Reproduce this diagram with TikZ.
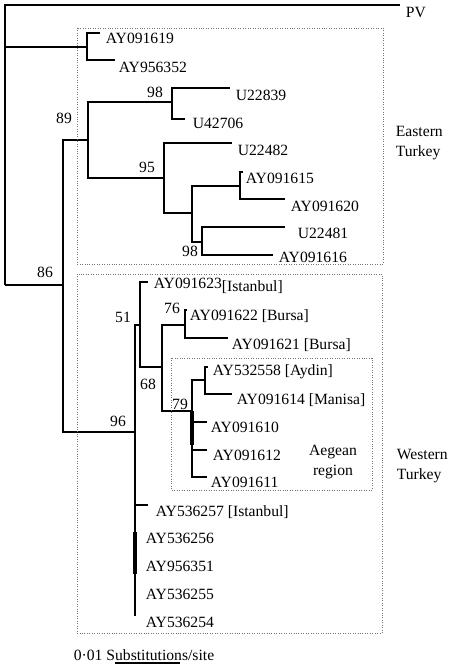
\documentclass[tikz,border=0pt]{standalone}
\usepackage{fontspec}
\setmainfont{Liberation Serif}
\begin{document}
\begin{tikzpicture}[x=0.02cm,y=-0.02cm,line width=1pt]
    \tikzstyle{taxon}=[anchor=west,inner sep=0pt,font=\fontsize{8.9}{10}\selectfont];
    \tikzstyle{boot}=[inner sep=0pt,font=\fontsize{8.9}{10}\selectfont];
    \tikzstyle{regionbox}=[draw=black!55,densely dotted,line width=0.4pt];
    \tikzstyle{polytomy}=[line width=1.8pt];
    \useasboundingbox (0,0) rectangle (450,666);

    % inner nodes of the tree
    \coordinate (root) at (5, 285);
    \coordinate (c1)   at (87, 47);
    \coordinate (n86)  at (63, 285);
    \coordinate (n89)  at (88, 140);
    \coordinate (n98a) at (172, 102);
    \coordinate (n95)  at (164, 178);
    \coordinate (nA)   at (192, 213);
    \coordinate (nB)   at (240, 186);
    \coordinate (n98b) at (202, 242);
    \coordinate (n96)  at (135, 432);
    \coordinate (n51)  at (140, 325);
    \coordinate (n68)  at (162, 367);
    \coordinate (n76)  at (185, 325);
    \coordinate (n79)  at (192, 411);
    \coordinate (n79b) at (192, 445);
    \coordinate (nC)   at (205, 380);

    % tips
    \coordinate (pv)       at (400, 5);
    \coordinate (ay091619) at (100, 33);
    \coordinate (ay956352) at (115, 60);
    \coordinate (u22839)   at (230, 88);
    \coordinate (u42706)   at (185, 119);
    \coordinate (u22482)   at (232, 143);
    \coordinate (ay091615) at (243, 172);
    \coordinate (ay091620) at (285, 199);
    \coordinate (u22481)   at (285, 227);
    \coordinate (ay091616) at (273, 255);
    \coordinate (ay091623) at (148, 282);
    \coordinate (ay091622) at (187, 310);
    \coordinate (ay091621) at (228, 338);
    \coordinate (ay532558) at (208, 367);
    \coordinate (ay091614) at (232, 394);
    \coordinate (ay091610) at (207, 422);
    \coordinate (ay091612) at (207, 450);
    \coordinate (ay091611) at (207, 477);
    \coordinate (ay536257) at (148, 505);
    \coordinate (ay536256) at (135, 532);
    \coordinate (ay956351) at (135, 574);
    \coordinate (ay536254) at (135, 616);

    % branches
    \draw (root) |- (pv);
    \draw (root) |- (c1);
    \draw (root) -- (n86);
    \draw (c1) |- (ay091619);
    \draw (c1) |- (ay956352);
    \draw (n86) |- (n89);
    \draw (n86) |- (n96);
    \draw (n89) |- (n98a);
    \draw (n89) |- (n95);
    \draw (n98a) |- (u22839);
    \draw (n98a) |- (u42706);
    \draw (n95) |- (u22482);
    \draw (n95) |- (nA);
    \draw (nA) |- (nB);
    \draw (nA) |- (n98b);
    \draw (nB) |- (ay091615);
    \draw (nB) |- (ay091620);
    \draw (n98b) |- (u22481);
    \draw (n98b) |- (ay091616);
    \draw (n96) |- (n51);
    \draw (n96) |- (ay536257);
    \draw (n96) -- (ay536254);
    \draw[polytomy] (ay536256) -- (ay956351);
    \draw (n51) |- (ay091623);
    \draw (n51) |- (n68);
    \draw (n68) |- (n76);
    \draw (n68) |- (n79);
    \draw (n76) |- (ay091622);
    \draw (n76) |- (ay091621);
    \draw (n79) |- (nC);
    \draw (n79) |- (ay091610);
    \draw (n79) |- (ay091612);
    \draw (n79) |- (ay091611);
    \draw[polytomy] (n79) -- (n79b);
    \draw (nC) |- (ay532558);
    \draw (nC) |- (ay091614);

    % taxon names
    \node[taxon] (tpv)       at (405, 12)  {PV};
    \node[taxon] (tay091619) at (105, 38)  {AY091619};
    \node[taxon] (tay956352) at (118, 67)  {AY956352};
    \node[taxon] (tu22839)   at (235, 95)  {U22839};
    \node[taxon] (tu42706)   at (192, 123) {U42706};
    \node[taxon] (tu22482)   at (237, 150) {U22482};
    \node[taxon] (tay091615) at (245, 178) {AY091615};
    \node[taxon] (tay091620) at (290, 206) {AY091620};
    \node[taxon] (tu22481)   at (297, 233) {U22481};
    \node[taxon] (tay091616) at (278, 257) {AY091616};
    \node[taxon] (tay091623) at (153, 286) {AY091623\raisebox{-1.5pt}{[Istanbul]}};
    \node[taxon] (tay091622) at (189, 316) {AY091622 [Bursa]};
    \node[taxon] (tay091621) at (231, 345) {AY091621 [Bursa]};
    \node[taxon] (tay532558) at (212, 372) {AY532558 [Aydin]};
    \node[taxon] (tay091614) at (236, 400) {AY091614 [Manisa]};
    \node[taxon] (tay091610) at (210, 427) {AY091610};
    \node[taxon] (tay091612) at (212, 455) {AY091612};
    \node[taxon] (tay091611) at (210, 482) {AY091611};
    \node[taxon] (tay536257) at (155, 512) {AY536257 [Istanbul]};
    \node[taxon] (tay536256) at (145, 538) {AY536256};
    \node[taxon] (tay956351) at (145, 566) {AY956351};
    \node[taxon] (tay536255) at (145, 594) {AY536255};
    \node[taxon] (tay536254) at (145, 622) {AY536254};

    % bootstrap values
    \node[boot] (b89)  at (64, 118)  {89};
    \node[boot] (b98a) at (155, 92)  {98};
    \node[boot] (b95)  at (147, 167) {95};
    \node[boot] (b98b) at (190, 251) {98};
    \node[boot] (b86)  at (45, 272)  {86};
    \node[boot] (b51)  at (123, 317) {51};
    \node[boot] (b76)  at (172, 308) {76};
    \node[boot] (b68)  at (148, 384) {68};
    \node[boot] (b79)  at (180, 404) {79};
    \node[boot] (b96)  at (118, 421) {96};

    % regions
    \draw[regionbox] (77, 28) rectangle (383, 264);
    \draw[regionbox] (77, 274) rectangle (382, 633);
    \draw[regionbox] (171, 358) rectangle (372, 490);
    \node[taxon,align=left] (eastern) at (395, 143) {Eastern\\[1.2pt]Turkey};
    \node[taxon,align=left] (western) at (396, 466) {Western\\[1pt]Turkey};
    \node[boot,align=center] (aegean) at (333, 462) {Aegean\\[1pt]region};

    % scale
    \node[taxon] (scale) at (73, 655) {0·01 Substitutions/site};
    \coordinate (sb1) at (115, 663);
    \coordinate (sb2) at (180, 663);
    \draw[line width=0.8pt] (sb1) -- (sb2);
\end{tikzpicture}
\end{document}
